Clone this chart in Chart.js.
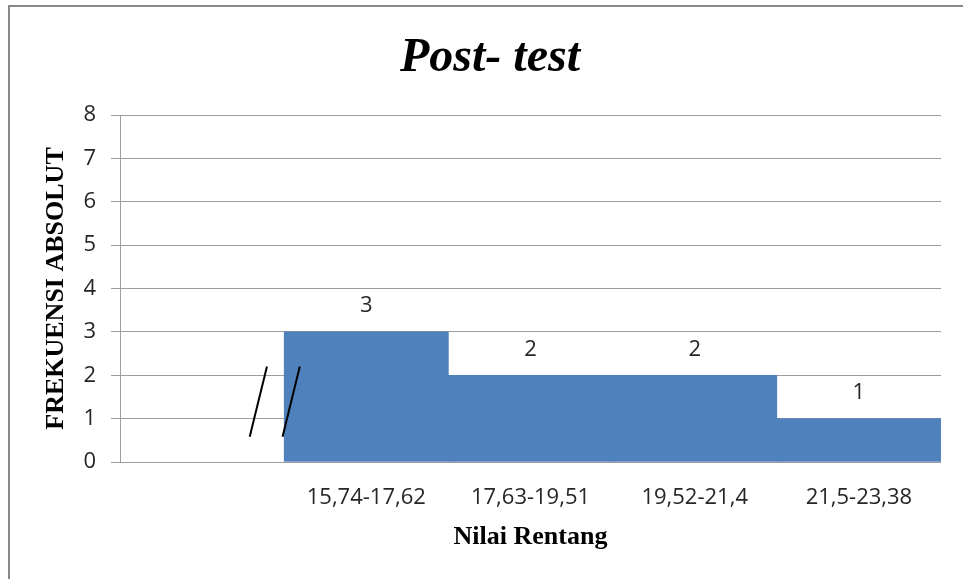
<!DOCTYPE html>
<html>
<head>
<meta charset="utf-8">
<script src="https://cdn.jsdelivr.net/npm/chart.js@4"></script>
<style>
  html, body { margin: 0; padding: 0; background: #fff; overflow: hidden; }
  #wrap { position: relative; width: 963px; height: 579px; }
  #frame { position: absolute; left: 8px; top: 5px; width: 1000px; height: 1000px;
           border-left: 2px solid #888; border-top: 2px solid #888; pointer-events: none; }
</style>
</head>
<body>
<div id="wrap">
  <canvas id="chartPost" width="963" height="579"></canvas>
  <div id="frame"></div>
</div>
<script>
// data
const kategori = ["", "15,74-17,62", "17,63-19,51", "19,52-21,4", "21,5-23,38"];
const frekuensi = [null, 3, 2, 2, 1];
const yTicks = [0, 1, 2, 3, 4, 5, 6, 7, 8];

const tickFont = { family: "'Open Sans', sans-serif", size: 22 };
const serifBold = { family: "'Liberation Serif', 'Times New Roman', serif", weight: 'bold' };

// value labels above each bar
const nilaiLabel = {
  id: 'nilaiLabel',
  afterDatasetsDraw(chart) {
    const ctx = chart.ctx;
    const meta = chart.getDatasetMeta(0);
    ctx.save();
    ctx.font = "22px 'Open Sans', sans-serif";
    ctx.fillStyle = '#262626';
    ctx.textAlign = 'center';
    ctx.textBaseline = 'middle';
    meta.data.forEach((bar, i) => {
      const v = frekuensi[i];
      if (v === null) return;
      ctx.fillText(String(v), bar.x, bar.y - 26);
    });
    ctx.restore();
  }
};

// axis break symbol "//" drawn in data units
const patahSumbu = {
  id: 'patahSumbu',
  afterDatasetsDraw(chart) {
    const x = chart.scales.x, y = chart.scales.y;
    const w = (x.right - x.left) / kategori.length;
    const edge = x.getPixelForValue(0) + w / 2;
    const y0 = y.getPixelForValue(0.58), y1 = y.getPixelForValue(2.2);
    const ctx = chart.ctx;
    ctx.save();
    ctx.strokeStyle = '#000';
    ctx.lineWidth = 2;
    [-0.21, -0.01].forEach(f => {
      ctx.beginPath();
      ctx.moveTo(edge + f * w, y0);
      ctx.lineTo(edge + (f + 0.105) * w, y1);
      ctx.stroke();
    });
    ctx.restore();
  }
};

const ctx = document.getElementById('chartPost').getContext('2d');
new Chart(ctx, {
  type: 'bar',
  data: {
    labels: kategori,
    datasets: [{
      data: frekuensi,
      backgroundColor: '#4F81BD',
      borderWidth: 0,
      barPercentage: 1,
      categoryPercentage: 1
    }]
  },
  options: {
    responsive: false,
    animation: false,
    layout: { padding: { left: 39, right: 22, top: 0, bottom: 0 } },
    plugins: {
      legend: { display: false },
      tooltip: { enabled: false },
      title: {
        display: true,
        text: 'Post- test',
        color: '#000',
        font: { family: serifBold.family, weight: 'bold', style: 'italic', size: 48, lineHeight: 1.2 },
        padding: { top: 30, bottom: 27.4 }
      }
    },
    scales: {
      x: {
        grid: { display: false, drawTicks: false },
        border: { display: false },
        ticks: { color: '#262626', font: tickFont, padding: 23, maxRotation: 0, autoSkip: false },
        title: {
          display: true,
          text: 'Nilai Rentang',
          color: '#000',
          font: { family: serifBold.family, weight: 'bold', size: 26, lineHeight: 1.2 },
          padding: { top: 0, bottom: 26 }
        },
        afterFit(s) { s.height = 117; }
      },
      y: {
        min: 0,
        max: 8,
        afterBuildTicks(s) { s.ticks = yTicks.map(v => ({ value: v })); },
        grid: { color: '#9d9d9d', lineWidth: 1, drawTicks: true, tickLength: 9 },
        border: { display: true, color: '#9d9d9d', width: 1 },
        ticks: { color: '#262626', font: tickFont, padding: 15 },
        title: {
          display: true,
          text: 'FREKUENSI ABSOLUT',
          color: '#000',
          font: { family: serifBold.family, weight: 'bold', size: 26, lineHeight: 1.2 },
          padding: { top: 2, bottom: 0 }
        },
        afterFit(s) { s.width = 81; }
      }
    }
  },
  plugins: [nilaiLabel, patahSumbu]
});
</script>
</body>
</html>
